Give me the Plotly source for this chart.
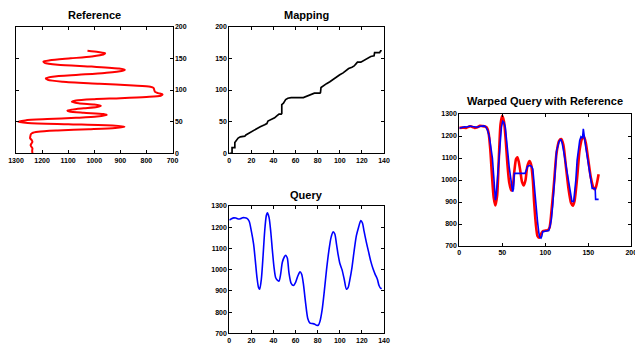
import plotly.graph_objects as go

# ---------------- data ----------------
# Reference series: sample index -> value
ref_idx = [0, 4, 8, 11, 13, 16, 18, 21, 24, 27, 30, 32, 34, 36, 38, 40, 42, 44, 46, 48,
           50, 52, 54, 56, 58, 60.5, 62, 64, 66, 67.5, 69, 71, 73, 75, 77, 79, 81.5, 83.5,
           85.5, 87, 89, 91, 93, 95, 97, 100, 103, 105, 107, 110, 113, 116, 118.5, 121,
           124, 127, 130, 132, 134, 137, 140, 143, 145, 147, 150, 153, 156, 158, 160, 162]
ref_val = [1237, 1238, 1237, 1242, 1244, 1240, 1237, 1240, 1246, 1245, 1243, 1238, 1215,
           1140, 1020, 920, 884, 930, 1100, 1255, 1292, 1265, 1180, 1070, 990, 952, 965,
           1040, 1095, 1103, 1085, 1040, 990, 975, 1000, 1060, 1086, 1070, 1000, 900, 800,
           745, 738, 755, 767, 770, 772, 785, 850, 980, 1120, 1178, 1186, 1160, 1060, 960,
           895, 883, 905, 1010, 1140, 1190, 1195, 1170, 1090, 1010, 965, 958, 985, 1026]

# Query series
q_idx = [0, 2, 4, 6, 8, 10, 12, 14, 16, 18, 20, 22, 23.5, 25, 26.5, 27.5, 29, 30.5, 32,
         33.5, 34.5, 36, 37.5, 39, 40.5, 42, 44, 45, 46.5, 48, 50, 51, 52.5, 54, 56, 58,
         60, 62, 64, 65.5, 67, 69, 71, 73, 75, 77, 79, 80.5, 82, 84, 86, 88, 90, 92, 94,
         95.5, 97, 98.5, 100, 102, 104, 106, 107.5, 109, 111, 113, 115, 117, 119, 120.5,
         122, 124, 126, 128, 130, 132, 134, 135.5, 137, 138]
q_val = [1234, 1240, 1244, 1243, 1239, 1240, 1245, 1245, 1242, 1228, 1180, 1120, 1045,
         965, 915, 908, 955, 1060, 1180, 1255, 1268, 1245, 1180, 1090, 1010, 962, 948,
         946, 980, 1035, 1062, 1068, 1055, 985, 935, 925, 940, 970, 990, 978, 935, 845,
         770, 748, 746, 744, 738, 738, 755, 810, 900, 1000, 1085, 1150, 1178, 1168, 1120,
         1070, 1030, 1000, 955, 908, 915, 950, 1010, 1090, 1160, 1200, 1232, 1220, 1180,
         1130, 1085, 1040, 1005, 978, 955, 925, 912, 912]

# Warping path (query index -> reference index)
map_q = [0, 2.5, 2.5, 5, 5, 6, 8, 10, 13, 14, 15, 17, 20, 22, 25, 28, 32, 34, 35, 38, 41,
         43, 45, 47, 47.5, 47.5, 49, 50, 51, 53, 56, 67, 70, 73, 76, 77, 82, 82.5, 83, 85,
         88, 91, 94, 97, 100, 103, 106, 108, 111, 113, 115, 116, 119, 121, 123, 125, 128,
         131, 131.5, 136, 137, 138]
map_r = [0, 0, 9, 9, 17, 20, 24, 26, 27, 27, 29, 31, 34, 37, 40, 42, 45, 47, 51, 53, 56,
         59, 62, 62, 63, 77, 79, 82, 85, 87, 88, 88, 90, 92, 94, 95, 95, 96, 104, 107, 110,
         113, 117, 120, 124, 127, 131, 134, 136, 138, 142, 144, 144, 146, 149, 151, 153,
         154, 159, 159, 162, 162]

# Warped query (reference index -> query value)
w_idx = [0, 3, 6, 9, 12, 15, 18, 21, 24, 27, 29, 31, 33, 35, 37, 38.5, 40, 41, 42, 43,
         44.5, 46, 47.5, 49, 50.5, 52, 53.5, 55, 56.5, 58, 59.5, 61, 62, 63, 64, 76.5, 78,
         79.5, 82, 84, 85.5, 86.5, 88, 89.5, 91, 92.5, 93.5, 95, 96, 97, 100, 104, 105.5,
         107, 108.5, 110, 111.5, 113, 114.5, 116, 118, 119.5, 121, 123, 125, 127, 128.5,
         130, 131, 133, 134, 135.5, 137, 138.5, 140, 141.5, 143.3, 144.2, 145.3, 147, 149,
         151.5, 153, 154.5, 158, 158.5, 162]
w_val = [1235, 1240, 1242, 1241, 1245, 1243, 1240, 1240, 1244, 1246, 1246, 1240, 1225,
         1195, 1150, 1100, 1020, 950, 908, 935, 1015, 1110, 1185, 1240, 1267, 1262, 1240,
         1190, 1120, 1060, 1010, 965, 947, 960, 1030, 1030, 1045, 1062, 1066, 1062, 1050,
         1000, 945, 870, 810, 760, 740, 736, 745, 765, 767, 770, 790, 820, 880, 945, 1040,
         1130, 1160, 1175, 1185, 1170, 1138, 1090, 1045, 1000, 960, 910, 903, 903, 935,
         1000, 1090, 1145, 1180, 1197, 1190, 1233, 1190, 1150, 1100, 1045, 1000, 962, 962,
         912, 912]

# ---------------- figure ----------------
W, H = 635, 344
FONT = "Liberation Sans Narrow, Liberation Sans, Arial, sans-serif"

def px_dom_x(a, b):
    return [a / W, b / W]

def px_dom_y(top, bottom):
    return [1 - bottom / H, 1 - top / H]

fig = go.Figure()

red = "#ff0000"
blue = "#0000ff"

fig.add_trace(go.Scatter(x=ref_val, y=ref_idx, mode="lines",
                         line=dict(color=red, width=2, shape="spline", smoothing=0.7),
                         xaxis="x", yaxis="y"))
fig.add_trace(go.Scatter(x=map_q, y=map_r, mode="lines",
                         line=dict(color="black", width=1.7),
                         xaxis="x2", yaxis="y2"))
fig.add_trace(go.Scatter(x=q_idx, y=q_val, mode="lines",
                         line=dict(color=blue, width=1.6, shape="spline", smoothing=0.7),
                         xaxis="x3", yaxis="y3"))
fig.add_trace(go.Scatter(x=ref_idx, y=ref_val, mode="lines",
                         line=dict(color=red, width=2.6, shape="spline", smoothing=0.7),
                         xaxis="x4", yaxis="y4"))
fig.add_trace(go.Scatter(x=w_idx, y=w_val, mode="lines",
                         line=dict(color=blue, width=1.6),
                         xaxis="x4", yaxis="y4"))

tickfont = dict(family=FONT, size=7, color="black", weight="bold")

def ax(**kw):
    base = dict(showline=True, linecolor="black", linewidth=1, mirror="ticks",
                ticks="inside", ticklen=3, tickcolor="black", showgrid=False,
                zeroline=False, tickfont=tickfont, fixedrange=True, automargin=False,
                ticklabeloverflow="allow")
    base.update(kw)
    return base

dom_ref_x = px_dom_x(16, 172.5)
dom_top_y = px_dom_y(26.7, 153.3)
dom_map_x = px_dom_x(229.3, 384)
dom_q_y = px_dom_y(206, 333.3)
dom_w_x = px_dom_x(459.3, 631.3)
dom_w_y = px_dom_y(114, 246)

fig.update_layout(
    template="none",
    width=W, height=H,
    margin=dict(l=0, r=0, t=0, b=0, autoexpand=False),
    paper_bgcolor="white", plot_bgcolor="white",
    showlegend=False,
    xaxis=ax(domain=dom_ref_x, range=[1300, 700], tickvals=[1300, 1200, 1100, 1000, 900, 800, 700],
             anchor="y"),
    yaxis=ax(domain=dom_top_y, range=[0, 200], tickvals=[0, 50, 100, 150, 200],
             side="right", anchor="x"),
    xaxis2=ax(domain=dom_map_x, range=[0, 140], tickvals=list(range(0, 141, 20)), anchor="y2"),
    yaxis2=ax(domain=dom_top_y, range=[0, 200], tickvals=[0, 50, 100, 150, 200], anchor="x2"),
    xaxis3=ax(domain=dom_map_x, range=[0, 140], tickvals=list(range(0, 141, 20)), anchor="y3"),
    yaxis3=ax(domain=dom_q_y, range=[700, 1300], tickvals=list(range(700, 1301, 100)), anchor="x3"),
    xaxis4=ax(domain=dom_w_x, range=[0, 200], tickvals=[0, 50, 100, 150, 200], anchor="y4"),
    yaxis4=ax(domain=dom_w_y, range=[700, 1300], tickvals=list(range(700, 1301, 100)), anchor="x4"),
)

titles = [
    ("Reference", (16 + 172.5) / 2, 15),
    ("Mapping", (229.3 + 384) / 2, 15),
    ("Query", (229.3 + 384) / 2, 194.5),
    ("Warped Query with Reference", (459.3 + 631.3) / 2, 101.5),
]
for text, cx, cy in titles:
    fig.add_annotation(text=text, x=cx / W, y=1 - cy / H, xref="paper", yref="paper",
                       xanchor="center", yanchor="middle", showarrow=False,
                       font=dict(family=FONT, size=11, color="black", weight="bold"))

fig.write_html("out.html")
